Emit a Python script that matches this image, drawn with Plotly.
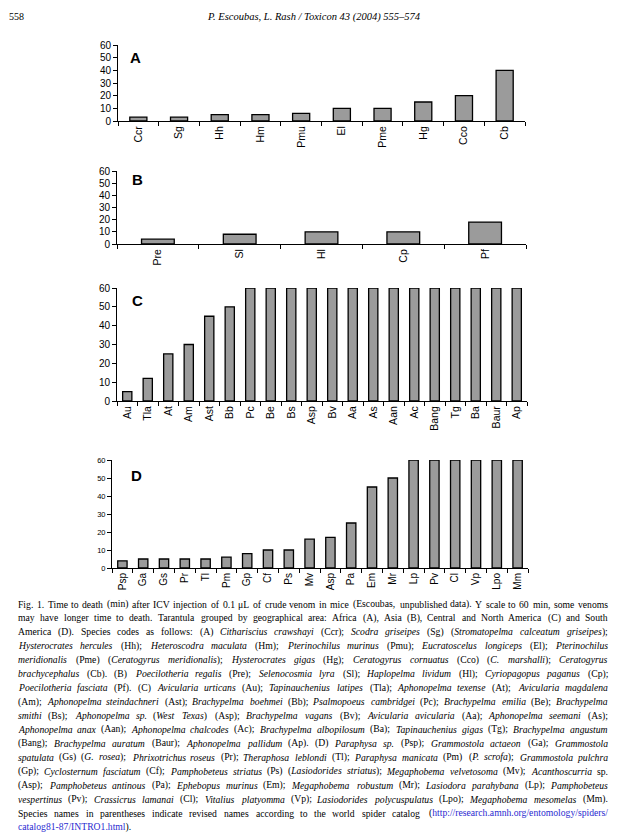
import plotly.graph_objects as go

# ---------------- data ----------------
cats_a = ["Ccr", "Sg", "Hh", "Hm", "Pmu", "El", "Pme", "Hg", "Cco", "Cb"]
vals_a = [3, 3, 5, 5, 6, 10, 10, 15, 20, 40]

cats_b = ["Pre", "Sl", "Hl", "Cp", "Pf"]
vals_b = [4, 8, 10, 10, 18]

cats_c = ["Au", "Tla", "At", "Am", "Ast", "Bb", "Pc", "Be", "Bs", "Asp",
          "Bv", "Aa", "As", "Aan", "Ac", "Bang", "Tg", "Ba", "Baur", "Ap"]
vals_c = [5, 12, 25, 30, 45, 50, 60, 60, 60, 60,
          60, 60, 60, 60, 60, 60, 60, 60, 60, 60]

cats_d = ["Psp", "Ga", "Gs", "Pr", "Tl", "Pm", "Gp", "Cf", "Ps", "Mv",
          "Asp", "Pa", "Em", "Mr", "Lp", "Pv", "Cl", "Vp", "Lpo", "Mm"]
vals_d = [4, 5, 5, 5, 5, 6, 8, 10, 10, 16,
          17, 25, 45, 50, 60, 60, 60, 60, 60, 60]

y_ticks = [0, 10, 20, 30, 40, 50, 60]

header_left = "558"
header_title = "P. Escoubas, L. Rash / Toxicon 43 (2004) 555–574"

caption_lines = [
    "Fig. 1. Time to death (min) after ICV injection of 0.1 μL of crude venom in mice (Escoubas, unpublished data). Y scale to 60 min, some venoms",
    "may have longer time to death. Tarantula grouped by geographical area: Africa (A), Asia (B), Central and North America (C) and South",
    "America (D). Species codes as follows: (A) <i>Cithariscius crawshayi</i> (Ccr); <i>Scodra griseipes</i> (Sg) (<i>Stromatopelma calceatum griseipes</i>);",
    "<i>Hysterocrates hercules</i> (Hh); <i>Heteroscodra maculata</i> (Hm); <i>Pterinochilus murinus</i> (Pmu); <i>Eucratoscelus longiceps</i> (El); <i>Pterinochilus</i>",
    "<i>meridionalis</i> (Pme) (<i>Ceratogyrus meridionalis</i>); <i>Hysterocrates gigas</i> (Hg); <i>Ceratogyrus cornuatus</i> (Cco) (<i>C. marshalli</i>); <i>Ceratogyrus</i>",
    "<i>brachycephalus</i> (Cb). (B) <i>Poecilotheria regalis</i> (Pre); <i>Selenocosmia lyra</i> (Sl); <i>Haplopelma lividum</i> (Hl); <i>Cyriopagopus paganus</i> (Cp);",
    "<i>Poecilotheria fasciata</i> (Pf). (C) <i>Avicularia urticans</i> (Au); <i>Tapinauchenius latipes</i> (Tla); <i>Aphonopelma texense</i> (At); <i>Avicularia magdalena</i>",
    "(Am); <i>Aphonopelma steindachneri</i> (Ast); <i>Brachypelma boehmei</i> (Bb); <i>Psalmopoeus cambridgei</i> (Pc); <i>Brachypelma emilia</i> (Be); <i>Brachypelma</i>",
    "<i>smithi</i> (Bs); <i>Aphonopelma sp.</i> (<i>West Texas</i>) (Asp); <i>Brachypelma vagans</i> (Bv); <i>Avicularia avicularia</i> (Aa); <i>Aphonopelma seemani</i> (As);",
    "<i>Aphonopelma anax</i> (Aan); <i>Aphonopelma chalcodes</i> (Ac); <i>Brachypelma albopilosum</i> (Ba); <i>Tapinauchenius gigas</i> (Tg); <i>Brachypelma angustum</i>",
    "(Bang); <i>Brachypelma auratum</i> (Baur); <i>Aphonopelma pallidum</i> (Ap). (D) <i>Paraphysa sp.</i> (Psp); <i>Grammostola actaeon</i> (Ga); <i>Grammostola</i>",
    "<i>spatulata</i> (Gs) (<i>G. rosea</i>); <i>Phrixotrichus roseus</i> (Pr); <i>Theraphosa leblondi</i> (Tl); <i>Paraphysa manicata</i> (Pm) (<i>P. scrofa</i>); <i>Grammostola pulchra</i>",
    "(Gp); <i>Cyclosternum fasciatum</i> (Cf); <i>Pamphobeteus striatus</i> (Ps) (<i>Lasiodorides striatus</i>); <i>Megaphobema velvetosoma</i> (Mv); <i>Acanthoscurria</i> sp.",
    "(Asp); <i>Pamphobeteus antinous</i> (Pa); <i>Ephebopus murinus</i> (Em); <i>Megaphobema robustum</i> (Mr); <i>Lasiodora parahybana</i> (Lp); <i>Pamphobeteus</i>",
    "<i>vespertinus</i> (Pv); <i>Crassicrus lamanai</i> (Cl); <i>Vitalius platyomma</i> (Vp); <i>Lasiodorides polycuspulatus</i> (Lpo); <i>Megaphobema mesomelas</i> (Mm).",
    "Species names in parentheses indicate revised names according to the world spider catalog (<u>http://research.amnh.org/entomology/spiders/</u>",
    "<u>catalog81-87/INTRO1.html</u>).",
]

# ---------------- page geometry (pixels) ----------------
W, H = 625, 837
OFF = 8  # the page body adds an 8px margin around the figure
BAR_FILL = "#9b9b9b"
SANS = "Liberation Sans, Arial, sans-serif"
SERIF = "Liberation Serif, Times New Roman, serif"


def fx(px):
    return (px - OFF) / W


def fy(py):
    return 1 - (py - OFF) / H


def note(text, x, y, xanchor, size, family, yanchor="middle"):
    return dict(text=text, x=fx(x), y=fy(y), xref="paper", yref="paper",
                xanchor=xanchor, yanchor=yanchor, showarrow=False,
                borderpad=0, borderwidth=0,
                font=dict(family=family, size=size, color="black"))


panels = [
    dict(letter="A", cats=cats_a, vals=vals_a, x0=118, x1=525, yt=45, yb=121,
         bw=0.42, yfs=10, xfs=10.5, lx=135, ly=58),
    dict(letter="B", cats=cats_b, vals=vals_b, x0=117, x1=526, yt=171, yb=244,
         bw=0.40, yfs=10, xfs=10.5, lx=137, ly=180),
    dict(letter="C", cats=cats_c, vals=vals_c, x0=117, x1=527, yt=288, yb=401,
         bw=0.45, yfs=10, xfs=10.5, lx=137, ly=300),
    dict(letter="D", cats=cats_d, vals=vals_d, x0=112, x1=528, yt=460, yb=568,
         bw=0.45, yfs=7.5, xfs=10, lx=136, ly=476),
]

fig = go.Figure()
annotations = []
layout_axes = {}

for i, p in enumerate(panels, start=1):
    xa = "x" if i == 1 else f"x{i}"
    ya = "y" if i == 1 else f"y{i}"
    fig.add_trace(go.Bar(
        x=p["cats"], y=p["vals"], xaxis=xa, yaxis=ya, width=p["bw"],
        marker=dict(color=BAR_FILL, line=dict(color="black", width=1.3)),
        showlegend=False, hoverinfo="x+y",
    ))
    kx = "xaxis" if i == 1 else f"xaxis{i}"
    ky = "yaxis" if i == 1 else f"yaxis{i}"
    layout_axes[kx] = dict(
        domain=[fx(p["x0"]), fx(p["x1"])], anchor=ya, type="category",
        range=[-0.5, len(p["cats"]) - 0.5],
        showline=True, linecolor="black", linewidth=1,
        ticks="outside", tickson="boundaries", ticklen=4, tickcolor="black",
        tickangle=-90, tickfont=dict(family=SANS, size=p["xfs"], color="black"),
        showgrid=False, zeroline=False, fixedrange=True,
    )
    layout_axes[ky] = dict(
        domain=[fy(p["yb"]), fy(p["yt"])], anchor=xa,
        range=[0, 60], tickvals=y_ticks,
        showline=True, linecolor="black", linewidth=1,
        ticks="outside", ticklen=4, tickcolor="black",
        tickfont=dict(family=SANS, size=p["yfs"], color="black"),
        showgrid=False, zeroline=False, fixedrange=True,
    )
    annotations.append(note(f"<b>{p['letter']}</b>", p["lx"], p["ly"], "center", 15, SANS))

# ---------------- header ----------------
annotations.append(note(header_left, 9, 17, "left", 10, SERIF))
annotations.append(note(f"<i>{header_title}</i>", 314, 17, "center", 10.5, SERIF))

# ---------------- justified caption ----------------
REG = dict(zip("abcdefghijklmnopqrstuvwxyz",
               [444, 500, 444, 500, 444, 333, 500, 500, 278, 278, 500, 278, 778,
                500, 500, 500, 500, 333, 389, 278, 500, 500, 722, 500, 500, 444]))
REG.update(dict(zip("ABCDEFGHIJKLMNOPQRSTUVWXYZ",
                    [722, 667, 667, 722, 611, 556, 722, 722, 333, 389, 722, 611, 889,
                     722, 722, 556, 722, 667, 556, 611, 722, 722, 944, 722, 722, 611])))
ITA = dict(zip("abcdefghijklmnopqrstuvwxyz",
               [500, 500, 444, 500, 444, 278, 500, 500, 278, 278, 444, 278, 722,
                500, 500, 500, 500, 389, 389, 278, 500, 444, 667, 444, 444, 389]))
ITA.update(dict(zip("ABCDEFGHIJKLMNOPQRSTUVWXYZ",
                    [611, 611, 667, 722, 611, 611, 722, 722, 333, 444, 667, 556, 833,
                     667, 722, 611, 722, 611, 500, 556, 722, 611, 833, 611, 556, 556])))
PUNCT = {"(": 333, ")": 333, ".": 250, ",": 250, ";": 278, ":": 278, "/": 278,
         "-": 333, "–": 500, "μ": 576, " ": 250}
for d in (REG, ITA):
    d.update(PUNCT)
    for c in "0123456789":
        d[c] = 500

K_WIDTH = 1.01  # correction for rendered glyph widths


def parse_words(line):
    words, cur = [], []
    ital = link = False
    buf = ""
    i = 0

    def flush():
        nonlocal buf
        if buf:
            cur.append((buf, ital, link))
            buf = ""
    while i < len(line):
        for tag, attr, val in (("<i>", "i", True), ("</i>", "i", False),
                               ("<u>", "u", True), ("</u>", "u", False)):
            if line.startswith(tag, i):
                flush()
                if attr == "i":
                    ital = val
                else:
                    link = val
                i += len(tag)
                break
        else:
            ch = line[i]
            if ch == " ":
                flush()
                if cur:
                    words.append(cur)
                cur = []
            else:
                buf += ch
            i += 1
    flush()
    if cur:
        words.append(cur)
    return words


def run_width(runs):
    tot = 0
    for txt, it, _ in runs:
        tab = ITA if it else REG
        tot += sum(tab.get(c, 500) for c in txt)
    return tot / 1000.0


def run_html(runs):
    out = ""
    for txt, it, lk in runs:
        s = txt
        if it:
            s = f"<i>{s}</i>"
        if lk:
            s = f"<span style='color:#2a2ad0'>{s}</span>"
        out += s
    return out


LEFT, RIGHT = 18, 608
TW = RIGHT - LEFT
parsed = [parse_words(l) for l in caption_lines]
ratios = []
for words in parsed[:-1]:
    nat = sum(run_width(w) for w in words) + 0.25 * (len(words) - 1)
    ratios.append(TW / nat)
FS = min(ratios) * 0.95

Y_FIRST, Y_LAST = 604, 827
step = (Y_LAST - Y_FIRST) / (len(caption_lines) - 1)

for li, words in enumerate(parsed):
    ypix = Y_FIRST + li * step
    widths = [run_width(w) * FS * K_WIDTH for w in words]
    n = len(words)
    last = li == len(parsed) - 1
    if last:
        gap = 0.25 * FS * K_WIDTH
    else:
        gap = (TW - sum(widths)) / (n - 1)
    lefts = []
    xpos = LEFT
    for wi in range(n):
        lefts.append(xpos)
        xpos += widths[wi] + gap
    for wi, w in enumerate(words):
        right_half = (not last) and wi >= n / 2
        if right_half:
            xr = RIGHT - sum(widths[wi + 1:]) - gap * (n - 1 - wi)
            annotations.append(note(run_html(w), xr, ypix, "right", FS, SERIF))
        else:
            annotations.append(note(run_html(w), lefts[wi], ypix, "left", FS, SERIF))

fig.update_layout(
    width=W, height=H,
    margin=dict(l=0, r=0, t=0, b=0, autoexpand=False),
    paper_bgcolor="white", plot_bgcolor="white",
    bargap=0.5, showlegend=False,
    annotations=annotations,
    **layout_axes,
)

fig.write_html("out.html")
